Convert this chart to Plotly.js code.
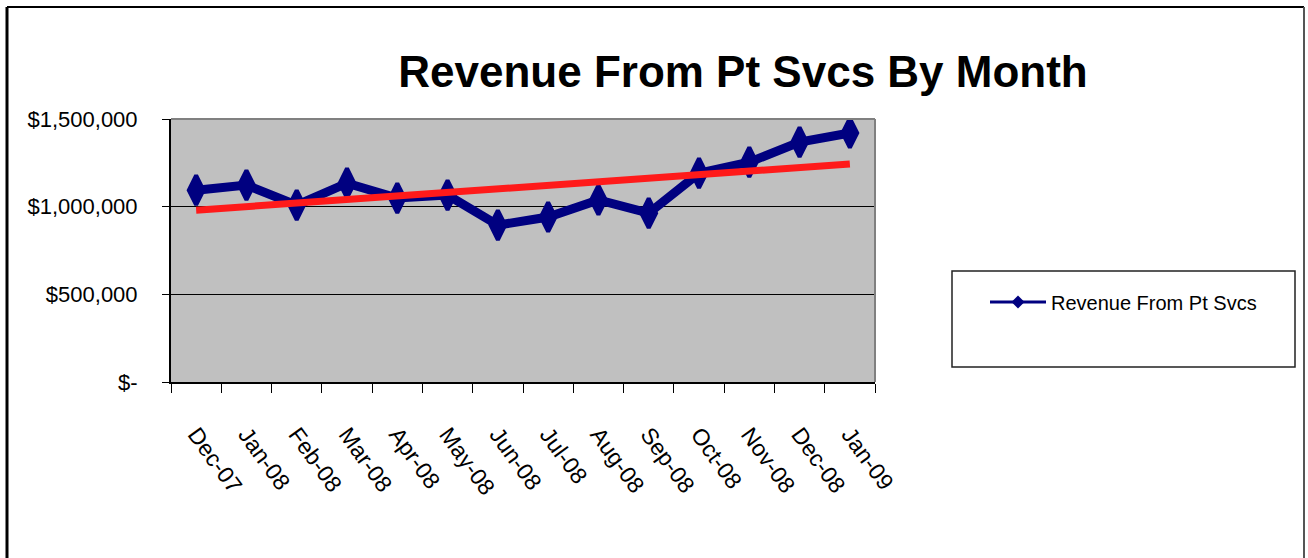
<!DOCTYPE html>
<html>
<head>
<meta charset="utf-8">
<script src="https://cdn.plot.ly/plotly-3.0.1.min.js"></script>
<style>html,body{margin:0;padding:0;background:#fff;}#chart{width:1308px;height:558px;}</style>
</head>
<body>
<div id="chart"></div>
<script>
// Data
var months = ["Dec-07","Jan-08","Feb-08","Mar-08","Apr-08","May-08","Jun-08","Jul-08","Aug-08","Sep-08","Oct-08","Nov-08","Dec-08","Jan-09"];
var revenue = [1094000,1123000,1009000,1134000,1049000,1066000,895000,941000,1038000,963000,1191000,1254000,1368000,1420000];
var trendMonths = ["Dec-07","Jan-09"];
var trendValues = [980000,1243000];
var yTickVals = [0,500000,1000000,1500000];
var yTickText = ["$-","$500,000","$1,000,000","$1,500,000"];
var seriesName = "Revenue From Pt Svcs";
var chartTitle = "Revenue From Pt Svcs By Month";

var font = "'Liberation Sans',Arial,sans-serif";

var traces = [
  {
    x: months, y: revenue, type: "scatter", mode: "lines+markers", name: seriesName,
    line: {color: "#000080", width: 9},
    marker: {symbol: "diamond-tall", size: 21, color: "#000080", line: {color: "#000080", width: 4}},
    showlegend: false
  },
  {
    x: trendMonths, y: trendValues, type: "scatter", mode: "lines",
    line: {color: "#ff1a1a", width: 7}, showlegend: false, hoverinfo: "skip"
  },
  // legend entry (thin line + small diamond, as in the reference legend)
  {
    x: [months[0]], y: [null], type: "scatter", mode: "lines+markers", name: seriesName,
    line: {color: "#000080", width: 3},
    marker: {symbol: "diamond", size: 10, color: "#000080"},
    showlegend: true, hoverinfo: "skip"
  }
];

var L = 171, R = 875, T = 119, B = 382;
var W = R - L, H = B - T;
function px(x){ return (x - L) / W; }
function py(y){ return (B - y) / H; }

var layout = {
  width: 1308, height: 558,
  margin: {l: L, r: 1308 - R, t: T, b: 558 - B, pad: 0},
  paper_bgcolor: "#ffffff",
  plot_bgcolor: "#c0c0c0",
  title: {
    text: "<b>" + chartTitle + "</b>",
    font: {family: font, size: 44, color: "#000"},
    xref: "container", x: 743/1308, xanchor: "center",
    yref: "container", y: 1 - 72/558, yanchor: "middle"
  },
  xaxis: {
    type: "category",
    range: [-0.5, months.length - 0.5],
    showgrid: false, zeroline: false,
    showline: true, linecolor: "#000", linewidth: 2,
    ticks: "outside", ticklen: 9, tickcolor: "#000", tickwidth: 1,
    tickson: "boundaries",
    tickangle: 54,
    ticklabelstandoff: 28,
    tickfont: {family: font, size: 23, color: "#000"}
  },
  yaxis: {
    range: [0, 1500000],
    tickvals: yTickVals, ticktext: yTickText,
    showgrid: true, gridcolor: "#000", gridwidth: 1,
    zeroline: false,
    showline: true, linecolor: "#000", linewidth: 2,
    ticks: "outside", ticklen: 7, tickcolor: "#000",
    ticklabelstandoff: 20,
    tickfont: {family: font, size: 22, color: "#000"}
  },
  showlegend: true,
  legend: {
    xref: "container", yref: "container",
    x: 985/1308, xanchor: "left",
    y: 1 - 302/558, yanchor: "middle",
    bgcolor: "rgba(0,0,0,0)", borderwidth: 0,
    itemwidth: 56,
    font: {family: font, size: 20, color: "#000"}
  },
  shapes: [
    {type: "line", xref: "paper", yref: "paper", x0: 0, x1: 1, y0: 1, y1: 1, line: {color: "#808080", width: 2}},
    {type: "line", xref: "paper", yref: "paper", x0: 1, x1: 1, y0: 0, y1: 1, line: {color: "#808080", width: 2}},
    {type: "rect", xref: "paper", yref: "paper", x0: px(952), x1: px(1295), y0: py(367), y1: py(271), line: {color: "#222", width: 1.5}, fillcolor: "rgba(0,0,0,0)"},
    {type: "line", xref: "paper", yref: "paper", x0: px(7), x1: px(7), y0: py(7), y1: py(570), line: {color: "#000", width: 3}},
    {type: "line", xref: "paper", yref: "paper", x0: px(7), x1: px(1304), y0: py(7), y1: py(7), line: {color: "#000", width: 2}},
    {type: "line", xref: "paper", yref: "paper", x0: px(1304), x1: px(1304), y0: py(7), y1: py(570), line: {color: "#555", width: 2}}
  ]
};

Plotly.newPlot("chart", traces, layout, {displayModeBar: false, staticPlot: true});
</script>
</body>
</html>
